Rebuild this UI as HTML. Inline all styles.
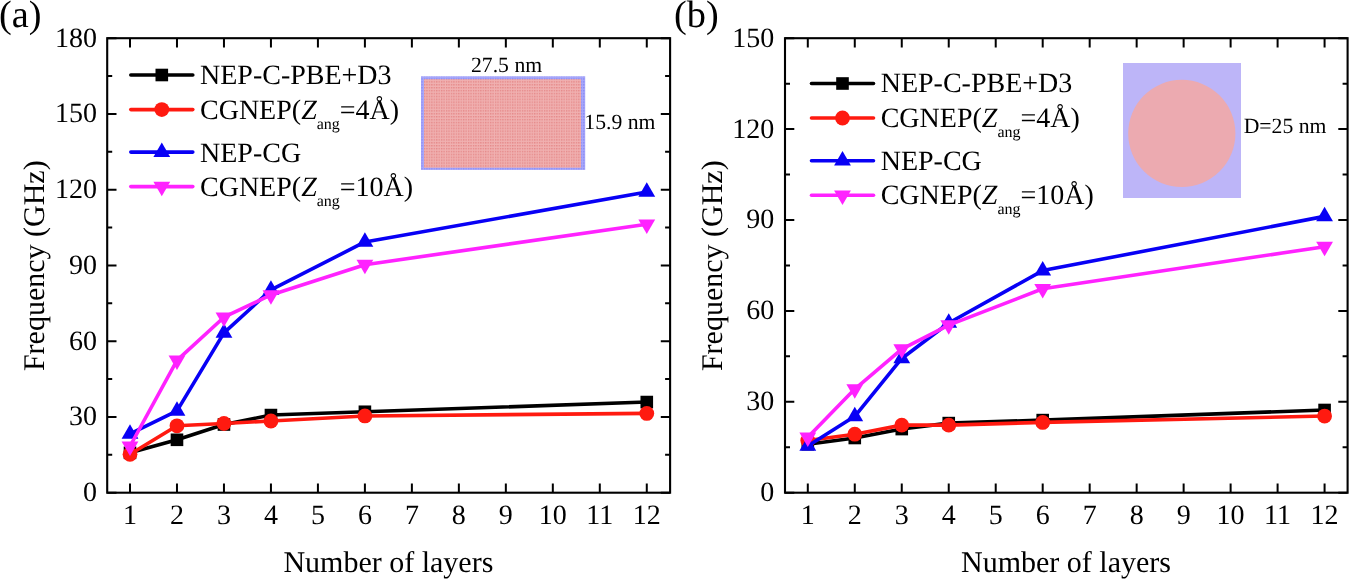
<!DOCTYPE html>
<html><head><meta charset="utf-8"><style>
html,body{margin:0;padding:0;background:#fff;}
svg{display:block;}
text{filter:grayscale(1);}
text{font-family:"Liberation Serif", serif;fill:#000;text-rendering:geometricPrecision;}
.t{font-size:28px;}
.l{font-size:28px;}
.sub{font-size:16px;}
.a{font-size:30px;}
.p{font-size:38.3px;}
.i{font-size:21.7px;}
</style></head><body>
<svg width="1350" height="579" viewBox="0 0 1350 579">
<rect width="1350" height="579" fill="#fff"/>
<defs><pattern id="pa" width="2.45" height="2.9" patternUnits="userSpaceOnUse"><rect width="2.45" height="2.9" fill="#f0b0b0"/><rect x="0.2" y="0.3" width="1" height="1" fill="#dc6464"/></pattern><pattern id="pb" width="2.45" height="2.9" patternUnits="userSpaceOnUse"><rect width="2.45" height="2.9" fill="#a8a8fa"/><rect x="0.2" y="0.3" width="1" height="1" fill="#6e6ef0"/></pattern></defs>
<rect x="421" y="76.3" width="164.2" height="93.6" fill="url(#pb)"/>
<rect x="424" y="79.2" width="157" height="88.5" fill="url(#pa)"/>
<text x="471" y="71.9" class="i">27.5 nm</text>
<text x="584.3" y="128.5" class="i">15.9 nm</text>
<rect x="1123" y="63" width="118" height="135" fill="#bdb5f8"/>
<circle cx="1181.8" cy="133.4" r="53.6" fill="#ecaab0"/>
<text x="1243.7" y="132.9" class="i">D=25 nm</text>
<path d="M130 492.7V483.4M130 38.2V47.5M176.98 492.7V483.4M176.98 38.2V47.5M223.96 492.7V483.4M223.96 38.2V47.5M270.94 492.7V483.4M270.94 38.2V47.5M317.92 492.7V483.4M317.92 38.2V47.5M364.9 492.7V483.4M364.9 38.2V47.5M411.88 492.7V483.4M411.88 38.2V47.5M458.86 492.7V483.4M458.86 38.2V47.5M505.84 492.7V483.4M505.84 38.2V47.5M552.82 492.7V483.4M552.82 38.2V47.5M599.8 492.7V483.4M599.8 38.2V47.5M646.78 492.7V483.4M646.78 38.2V47.5M107.2 492.7H116.5M670.1 492.7H660.8M107.2 454.82H112.2M670.1 454.82H665.1M107.2 416.95H116.5M670.1 416.95H660.8M107.2 379.07H112.2M670.1 379.07H665.1M107.2 341.2H116.5M670.1 341.2H660.8M107.2 303.32H112.2M670.1 303.32H665.1M107.2 265.45H116.5M670.1 265.45H660.8M107.2 227.57H112.2M670.1 227.57H665.1M107.2 189.7H116.5M670.1 189.7H660.8M107.2 151.82H112.2M670.1 151.82H665.1M107.2 113.95H116.5M670.1 113.95H660.8M107.2 76.07H112.2M670.1 76.07H665.1M107.2 38.2H116.5M670.1 38.2H660.8" stroke="#000" stroke-width="2" fill="none"/>
<rect x="107.2" y="38.2" width="562.9" height="454.5" fill="none" stroke="#000" stroke-width="2.1"/>
<text x="130" y="524" text-anchor="middle" class="t">1</text>
<text x="176.98" y="524" text-anchor="middle" class="t">2</text>
<text x="223.96" y="524" text-anchor="middle" class="t">3</text>
<text x="270.94" y="524" text-anchor="middle" class="t">4</text>
<text x="317.92" y="524" text-anchor="middle" class="t">5</text>
<text x="364.9" y="524" text-anchor="middle" class="t">6</text>
<text x="411.88" y="524" text-anchor="middle" class="t">7</text>
<text x="458.86" y="524" text-anchor="middle" class="t">8</text>
<text x="505.84" y="524" text-anchor="middle" class="t">9</text>
<text x="552.82" y="524" text-anchor="middle" class="t">10</text>
<text x="599.8" y="524" text-anchor="middle" class="t">11</text>
<text x="646.78" y="524" text-anchor="middle" class="t">12</text>
<text x="97" y="501.1" text-anchor="end" class="t">0</text>
<text x="97" y="425.35" text-anchor="end" class="t">30</text>
<text x="97" y="349.6" text-anchor="end" class="t">60</text>
<text x="97" y="273.85" text-anchor="end" class="t">90</text>
<text x="97" y="198.1" text-anchor="end" class="t">120</text>
<text x="97" y="122.35" text-anchor="end" class="t">150</text>
<text x="97" y="46.6" text-anchor="end" class="t">180</text>
<path d="M130 452.81L176.98 439.8L223.96 424.52L270.94 415.06L364.9 411.77L646.78 402.05" fill="none" stroke="#000000" stroke-width="3.6" stroke-linejoin="round" stroke-linecap="round"/>
<rect x="123.7" y="446.5" width="12.6" height="12.6" fill="#000000"/>
<rect x="170.68" y="433.5" width="12.6" height="12.6" fill="#000000"/>
<rect x="217.66" y="418.22" width="12.6" height="12.6" fill="#000000"/>
<rect x="264.64" y="408.76" width="12.6" height="12.6" fill="#000000"/>
<rect x="358.6" y="405.47" width="12.6" height="12.6" fill="#000000"/>
<rect x="640.48" y="395.75" width="12.6" height="12.6" fill="#000000"/>
<path d="M130 454.32L176.98 425.79L223.96 423.51L270.94 420.99L364.9 415.94L646.78 413.41" fill="none" stroke="#ff1a10" stroke-width="3.6" stroke-linejoin="round" stroke-linecap="round"/>
<circle cx="130" cy="454.32" r="7.4" fill="#ff1a10"/>
<circle cx="176.98" cy="425.79" r="7.4" fill="#ff1a10"/>
<circle cx="223.96" cy="423.51" r="7.4" fill="#ff1a10"/>
<circle cx="270.94" cy="420.99" r="7.4" fill="#ff1a10"/>
<circle cx="364.9" cy="415.94" r="7.4" fill="#ff1a10"/>
<circle cx="646.78" cy="413.41" r="7.4" fill="#ff1a10"/>
<path d="M130 433.87L176.98 410.89L223.96 332.87L270.94 289.94L364.9 241.97L646.78 191.97" fill="none" stroke="#0800f5" stroke-width="3.6" stroke-linejoin="round" stroke-linecap="round"/>
<path d="M130 424.2L138.4 438.7L121.6 438.7Z" fill="#0800f5"/>
<path d="M176.98 401.22L185.38 415.72L168.58 415.72Z" fill="#0800f5"/>
<path d="M223.96 323.2L232.36 337.7L215.56 337.7Z" fill="#0800f5"/>
<path d="M270.94 280.28L279.34 294.78L262.54 294.78Z" fill="#0800f5"/>
<path d="M364.9 232.3L373.3 246.8L356.5 246.8Z" fill="#0800f5"/>
<path d="M646.78 182.31L655.18 196.81L638.38 196.81Z" fill="#0800f5"/>
<path d="M130 446.24L176.98 360.39L223.96 317.21L270.94 294.99L364.9 264.69L646.78 224.29" fill="none" stroke="#ff22ff" stroke-width="3.6" stroke-linejoin="round" stroke-linecap="round"/>
<path d="M130 455.91L138.4 441.41L121.6 441.41Z" fill="#ff22ff"/>
<path d="M176.98 370.06L185.38 355.56L168.58 355.56Z" fill="#ff22ff"/>
<path d="M223.96 326.88L232.36 312.38L215.56 312.38Z" fill="#ff22ff"/>
<path d="M270.94 304.66L279.34 290.16L262.54 290.16Z" fill="#ff22ff"/>
<path d="M364.9 274.36L373.3 259.86L356.5 259.86Z" fill="#ff22ff"/>
<path d="M646.78 233.96L655.18 219.46L638.38 219.46Z" fill="#ff22ff"/>
<path d="M807.8 492.7V483.4M807.8 38.2V47.5M854.78 492.7V483.4M854.78 38.2V47.5M901.76 492.7V483.4M901.76 38.2V47.5M948.74 492.7V483.4M948.74 38.2V47.5M995.72 492.7V483.4M995.72 38.2V47.5M1042.7 492.7V483.4M1042.7 38.2V47.5M1089.68 492.7V483.4M1089.68 38.2V47.5M1136.66 492.7V483.4M1136.66 38.2V47.5M1183.64 492.7V483.4M1183.64 38.2V47.5M1230.62 492.7V483.4M1230.62 38.2V47.5M1277.6 492.7V483.4M1277.6 38.2V47.5M1324.58 492.7V483.4M1324.58 38.2V47.5M785 492.7H794.3M1347.6 492.7H1338.3M785 447.25H790M1347.6 447.25H1342.6M785 401.8H794.3M1347.6 401.8H1338.3M785 356.35H790M1347.6 356.35H1342.6M785 310.9H794.3M1347.6 310.9H1338.3M785 265.45H790M1347.6 265.45H1342.6M785 220H794.3M1347.6 220H1338.3M785 174.55H790M1347.6 174.55H1342.6M785 129.1H794.3M1347.6 129.1H1338.3M785 83.65H790M1347.6 83.65H1342.6M785 38.2H794.3M1347.6 38.2H1338.3" stroke="#000" stroke-width="2" fill="none"/>
<rect x="785" y="38.2" width="562.6" height="454.5" fill="none" stroke="#000" stroke-width="2.1"/>
<text x="807.8" y="524" text-anchor="middle" class="t">1</text>
<text x="854.78" y="524" text-anchor="middle" class="t">2</text>
<text x="901.76" y="524" text-anchor="middle" class="t">3</text>
<text x="948.74" y="524" text-anchor="middle" class="t">4</text>
<text x="995.72" y="524" text-anchor="middle" class="t">5</text>
<text x="1042.7" y="524" text-anchor="middle" class="t">6</text>
<text x="1089.68" y="524" text-anchor="middle" class="t">7</text>
<text x="1136.66" y="524" text-anchor="middle" class="t">8</text>
<text x="1183.64" y="524" text-anchor="middle" class="t">9</text>
<text x="1230.62" y="524" text-anchor="middle" class="t">10</text>
<text x="1277.6" y="524" text-anchor="middle" class="t">11</text>
<text x="1324.58" y="524" text-anchor="middle" class="t">12</text>
<text x="774.2" y="501.1" text-anchor="end" class="t">0</text>
<text x="774.2" y="410.2" text-anchor="end" class="t">30</text>
<text x="774.2" y="319.3" text-anchor="end" class="t">60</text>
<text x="774.2" y="228.4" text-anchor="end" class="t">90</text>
<text x="774.2" y="137.5" text-anchor="end" class="t">120</text>
<text x="774.2" y="46.6" text-anchor="end" class="t">150</text>
<path d="M807.8 444.22L854.78 438.01L901.76 429.07L948.74 423.1L1042.7 420.1L1324.58 409.98" fill="none" stroke="#000000" stroke-width="3.6" stroke-linejoin="round" stroke-linecap="round"/>
<rect x="801.5" y="437.92" width="12.6" height="12.6" fill="#000000"/>
<rect x="848.48" y="431.71" width="12.6" height="12.6" fill="#000000"/>
<rect x="895.46" y="422.77" width="12.6" height="12.6" fill="#000000"/>
<rect x="942.44" y="416.8" width="12.6" height="12.6" fill="#000000"/>
<rect x="1036.4" y="413.8" width="12.6" height="12.6" fill="#000000"/>
<rect x="1318.28" y="403.68" width="12.6" height="12.6" fill="#000000"/>
<path d="M807.8 440.58L854.78 434.22L901.76 425.13L948.74 425.13L1042.7 422.4L1324.58 416.04" fill="none" stroke="#ff1a10" stroke-width="3.6" stroke-linejoin="round" stroke-linecap="round"/>
<circle cx="807.8" cy="440.58" r="7.4" fill="#ff1a10"/>
<circle cx="854.78" cy="434.22" r="7.4" fill="#ff1a10"/>
<circle cx="901.76" cy="425.13" r="7.4" fill="#ff1a10"/>
<circle cx="948.74" cy="425.13" r="7.4" fill="#ff1a10"/>
<circle cx="1042.7" cy="422.4" r="7.4" fill="#ff1a10"/>
<circle cx="1324.58" cy="416.04" r="7.4" fill="#ff1a10"/>
<path d="M807.8 446.04L854.78 416.34L901.76 358.47L948.74 323.02L1042.7 270.6L1324.58 216.36" fill="none" stroke="#0800f5" stroke-width="3.6" stroke-linejoin="round" stroke-linecap="round"/>
<path d="M807.8 436.37L816.2 450.87L799.4 450.87Z" fill="#0800f5"/>
<path d="M854.78 406.68L863.18 421.18L846.38 421.18Z" fill="#0800f5"/>
<path d="M901.76 348.8L910.16 363.3L893.36 363.3Z" fill="#0800f5"/>
<path d="M948.74 313.35L957.14 327.85L940.34 327.85Z" fill="#0800f5"/>
<path d="M1042.7 260.93L1051.1 275.43L1034.3 275.43Z" fill="#0800f5"/>
<path d="M1324.58 206.7L1332.98 221.2L1316.18 221.2Z" fill="#0800f5"/>
<path d="M807.8 437.25L854.78 389.07L901.76 349.08L948.74 325.14L1042.7 288.78L1324.58 246.66" fill="none" stroke="#ff22ff" stroke-width="3.6" stroke-linejoin="round" stroke-linecap="round"/>
<path d="M807.8 446.92L816.2 432.42L799.4 432.42Z" fill="#ff22ff"/>
<path d="M854.78 398.74L863.18 384.24L846.38 384.24Z" fill="#ff22ff"/>
<path d="M901.76 358.74L910.16 344.24L893.36 344.24Z" fill="#ff22ff"/>
<path d="M948.74 334.81L957.14 320.31L940.34 320.31Z" fill="#ff22ff"/>
<path d="M1042.7 298.45L1051.1 283.95L1034.3 283.95Z" fill="#ff22ff"/>
<path d="M1324.58 256.33L1332.98 241.83L1316.18 241.83Z" fill="#ff22ff"/>
<path d="M130.8 75H192.8" stroke="#000000" stroke-width="3.6" stroke-linecap="round"/>
<rect x="155.5" y="68.7" width="12.6" height="12.6" fill="#000000"/>
<text x="200" y="84.1" class="l">NEP-C-PBE+D3</text>
<path d="M130.8 109.6H192.8" stroke="#ff1a10" stroke-width="3.6" stroke-linecap="round"/>
<circle cx="161.8" cy="109.6" r="7.4" fill="#ff1a10"/>
<text x="200" y="118.7" class="l">CGNEP(<tspan font-style="italic">Z</tspan><tspan class="sub" dy="10">ang</tspan><tspan dy="-10">=4Å)</tspan></text>
<path d="M130.8 152.1H192.8" stroke="#0800f5" stroke-width="3.6" stroke-linecap="round"/>
<path d="M161.8 142.43L170.2 156.93L153.4 156.93Z" fill="#0800f5"/>
<text x="200" y="161.5" class="l">NEP-CG</text>
<path d="M130.8 186.6H192.8" stroke="#ff22ff" stroke-width="3.6" stroke-linecap="round"/>
<path d="M161.8 196.27L170.2 181.77L153.4 181.77Z" fill="#ff22ff"/>
<text x="200" y="196" class="l">CGNEP(<tspan font-style="italic">Z</tspan><tspan class="sub" dy="10">ang</tspan><tspan dy="-10">=10Å)</tspan></text>
<path d="M811.5 83.5H873.5" stroke="#000000" stroke-width="3.6" stroke-linecap="round"/>
<rect x="836.2" y="77.2" width="12.6" height="12.6" fill="#000000"/>
<text x="880.7" y="92.3" class="l">NEP-C-PBE+D3</text>
<path d="M811.5 118H873.5" stroke="#ff1a10" stroke-width="3.6" stroke-linecap="round"/>
<circle cx="842.5" cy="118" r="7.4" fill="#ff1a10"/>
<text x="880.7" y="127.2" class="l">CGNEP(<tspan font-style="italic">Z</tspan><tspan class="sub" dy="10">ang</tspan><tspan dy="-10">=4Å)</tspan></text>
<path d="M811.5 160.7H873.5" stroke="#0800f5" stroke-width="3.6" stroke-linecap="round"/>
<path d="M842.5 151.03L850.9 165.53L834.1 165.53Z" fill="#0800f5"/>
<text x="880.7" y="169.7" class="l">NEP-CG</text>
<path d="M811.5 195.3H873.5" stroke="#ff22ff" stroke-width="3.6" stroke-linecap="round"/>
<path d="M842.5 204.97L850.9 190.47L834.1 190.47Z" fill="#ff22ff"/>
<text x="880.7" y="204.3" class="l">CGNEP(<tspan font-style="italic">Z</tspan><tspan class="sub" dy="10">ang</tspan><tspan dy="-10">=10Å)</tspan></text>
<text x="388.4" y="571.5" text-anchor="middle" class="a">Number of layers</text>
<text x="1066" y="571.5" text-anchor="middle" class="a">Number of layers</text>
<text transform="translate(43.9 265.7) rotate(-90)" text-anchor="middle" class="a">Frequency (GHz)</text>
<text transform="translate(722.1 265.7) rotate(-90)" text-anchor="middle" class="a">Frequency (GHz)</text>
<text x="-0.9" y="27.2" class="p">(a)</text>
<text x="674" y="27.2" class="p">(b)</text>
</svg>
</body></html>
